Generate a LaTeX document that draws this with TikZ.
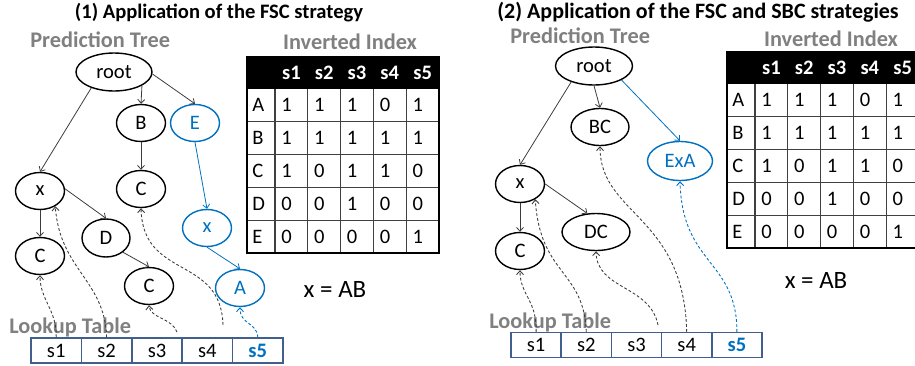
\documentclass[tikz,border=0pt]{standalone}
\usepackage{fontspec}
\setmainfont{Carlito}
\usetikzlibrary{shapes.geometric,arrows.meta}
\definecolor{myblue}{RGB}{0,112,192}
\definecolor{mygray}{RGB}{128,128,128}
\definecolor{lkborder}{RGB}{65,95,140}
\definecolor{edgegray}{RGB}{60,60,60}
\newcommand{\fsz}{\fontsize{11.7}{14}\selectfont}
\newcommand{\fsg}{\fontsize{12.7}{15}\selectfont}
\newcommand{\fst}{\fontsize{12.5}{15}\selectfont}
\newcommand{\fse}{\fontsize{14.2}{17}\selectfont}
\newcommand{\invtable}[3]{%
  \fill[black] (#1,#2) rectangle ({#1+192},{#2+32});
  \foreach \c in {1,...,5}{
    \node[text=white, font=\fsz\bfseries] (#3h\c) at ({#1+28+(\c-0.5)*32.8},{#2+16}) {s\c};
  }
  \foreach \r in {1,...,4}{
    \draw[gridline] (#1,{#2+32+\r*32.8}) -- ({#1+192},{#2+32+\r*32.8});
  }
  \foreach \c in {0,...,4}{
    \draw[gridline] ({#1+28+\c*32.8},{#2+32}) -- ({#1+28+\c*32.8},{#2+196});
  }
  \draw[black, line width=0.8pt] (#1,#2) rectangle ({#1+192},{#2+196});
  \foreach \lab/\va/\vb/\vc/\vd/\ve [count=\r] in {A/1/1/1/0/1,B/1/1/1/1/1,C/1/0/1/1/0,D/0/0/1/0/0,E/0/0/0/0/1}{
    \node[anchor=base west] (#3\lab) at ({#1+5},{#2+32+(\r-0.5)*32.8+6.5}) {\lab};
    \node[anchor=base west] (#3\lab1) at ({#1+28+0*32.8+6},{#2+32+(\r-0.5)*32.8+6.5}) {\va};
    \node[anchor=base west] (#3\lab2) at ({#1+28+1*32.8+6},{#2+32+(\r-0.5)*32.8+6.5}) {\vb};
    \node[anchor=base west] (#3\lab3) at ({#1+28+2*32.8+6},{#2+32+(\r-0.5)*32.8+6.5}) {\vc};
    \node[anchor=base west] (#3\lab4) at ({#1+28+3*32.8+6},{#2+32+(\r-0.5)*32.8+6.5}) {\vd};
    \node[anchor=base west] (#3\lab5) at ({#1+28+4*32.8+6},{#2+32+(\r-0.5)*32.8+6.5}) {\ve};
  }
}
\begin{document}
\begin{tikzpicture}[x=0.02cm,y=-0.02cm,
  every node/.style={font=\fsz, inner sep=0pt},
  gridline/.style={draw=black!75, line width=0.6pt},
  tn/.style={ellipse, draw=black, line width=0.8pt, minimum width=0.98cm, minimum height=0.74cm, inner sep=0pt},
  tnb/.style={tn, draw=myblue, text=myblue},
  tedge/.style={draw=edgegray, line width=0.45pt, -{Straight Barb[length=2.2pt,width=4pt]}},
  bedge/.style={tedge, draw=myblue},
  dar/.style={draw=edgegray, line width=0.5pt, dash pattern=on 1.6pt off 1.2pt, -{Straight Barb[length=2.2pt,width=4pt]}},
  dbar/.style={dar, draw=myblue},
  lk/.style={rectangle, draw=lkborder, line width=0.8pt, minimum width=1.006cm, minimum height=0.5cm},
  ttl/.style={font=\fsz\bfseries},
  glab/.style={font=\fsg\bfseries, text=mygray}]
\useasboundingbox (0,0) rectangle (915,365);
\clip (0,0) rectangle (915,365);

% ---------- titles ----------
\node[ttl, anchor=base] (t1) at (219,18) {(1) Application of the FSC strategy};
\node[font=\fst\bfseries, anchor=base west] (t2) at (497,18) {(2) Application of the FSC and SBC strategies};
\node[glab, anchor=base west] (pt1) at (30,47) {Prediction Tree};
\node[glab, anchor=base west] (pt2) at (510,43) {Prediction Tree};
\node[glab, anchor=base] (ii1) at (350,49) {Inverted Index};
\node[glab, anchor=base] (ii2) at (831,46) {Inverted Index};
\node[glab, anchor=base west] (lt1) at (9,333) {Lookup Table};
\node[glab, anchor=base west] (lt2) at (489,328) {Lookup Table};
\node[font=\fse, anchor=base] (eq1) at (335,297) {x = AB};
\node[font=\fse, anchor=base] (eq2) at (816,288) {x = AB};

% ---------- tables ----------
\invtable{247}{57}{L}
\invtable{727}{52}{R}

% ---------- left tree ----------
\node[tn, minimum width=1.52cm, minimum height=0.76cm] (Lroot) at (114,72) {root};
\node[tn] (LB) at (141,123) {B};
\node[tnb] (LE) at (195,123) {E};
\node[tn] (Lx) at (40,191) {x};
\node[tn] (LC1) at (40,256) {C};
\node[tn] (LC2) at (141,189) {C};
\node[tn, minimum width=0.96cm, minimum height=0.76cm] (LD) at (106,238) {D};
\node[tn] (LC3) at (149,286) {C};
\node[tnb] (Lxb) at (207,228) {x};
\node[tnb] (LA) at (240,288) {A};

\draw[tedge] (Lroot.215) -- (Lx.north);
\draw[tedge] (Lroot.334) -- (LB.north);
\draw[tedge] (Lroot.357) -- (LE.north);
\draw[tedge] (LB.south) -- (LC2.north);
\draw[tedge] (Lx.south) -- (LC1.north);
\draw[tedge] (Lx.5) -- (LD.north);
\draw[tedge] (LD.320) -- (LC3.north);
\draw[bedge] (LE.south) -- (Lxb.north);
\draw[bedge] (Lxb.south) -- (LA.north);

% left lookup table
\node[lk] (Ll1) at ({31+0.5*50.4},350.5) {s1};
\node[lk] (Ll2) at ({31+1.5*50.4},350.5) {s2};
\node[lk] (Ll3) at ({31+2.5*50.4},350.5) {s3};
\node[lk] (Ll4) at ({31+3.5*50.4},350.5) {s4};
\node[lk, text=myblue, font=\fsz\bfseries] (Ll5) at ({31+4.5*50.4},350.5) {s5};

\coordinate (Ls3) at (177,332);
\coordinate (Ls4) at (223,325);
\draw[dar] (Ll1.north) .. controls (57,310) and (40,300) .. (LC1.south);
\draw[dar] (Ll2.north) .. controls (105,280) and (60,270) .. (Lx.315);
\draw[dar] (Ls3) .. controls (172,318) and (150,318) .. (LC3.south);
\draw[dar] (Ls4) .. controls (221,255) and (143,280) .. (LC2.south);
\draw[dbar] (Ll5.north) .. controls (257,322) and (240,325) .. (LA.south);

% ---------- right tree ----------
\node[tn, minimum width=1.54cm, minimum height=0.76cm] (Rroot) at (594,66) {root};
\node[tn, minimum width=1.16cm] (RBC) at (600,127) {BC};
\node[tnb, minimum width=1.3cm, minimum height=0.78cm] (RExA) at (680,161) {ExA};
\node[tn] (Rx) at (520,184) {x};
\node[tn] (RC) at (520,251) {C};
\node[tn, minimum width=1.36cm] (RDC) at (596,232) {DC};

\draw[tedge] (Rroot.215) -- (Rx.north);
\draw[tedge] (Rroot.south) -- (RBC.north);
\draw[bedge] (Rroot.333) -- (RExA.north);
\draw[tedge] (Rx.south) -- (RC.north);
\draw[tedge] (Rx.0) -- (RDC.115);

% right lookup table
\node[lk] (Rl1) at ({511+0.5*50.2},345) {s1};
\node[lk] (Rl2) at ({511+1.5*50.2},345) {s2};
\node[lk] (Rl3) at ({511+2.5*50.2},345) {s3};
\node[lk] (Rl4) at ({511+3.5*50.2},345) {s4};
\node[lk, text=myblue, font=\fsz\bfseries] (Rl5) at ({511+4.5*50.2},345) {s5};

\coordinate (Rs3) at (658,325);
\draw[dar] (Rl1.north) .. controls (537,300) and (520,295) .. (RC.south);
\draw[dar] (Rl2.north) .. controls (584,270) and (540,275) .. (Rx.315);
\draw[dar] (Rs3) .. controls (650,285) and (597,290) .. (RDC.south);
\draw[dar] (Rl4.north) .. controls (684,215) and (600,215) .. (RBC.south);
\draw[dbar] (Rl5.north) .. controls (737,260) and (682,265) .. (RExA.south);
\end{tikzpicture}
\end{document}
